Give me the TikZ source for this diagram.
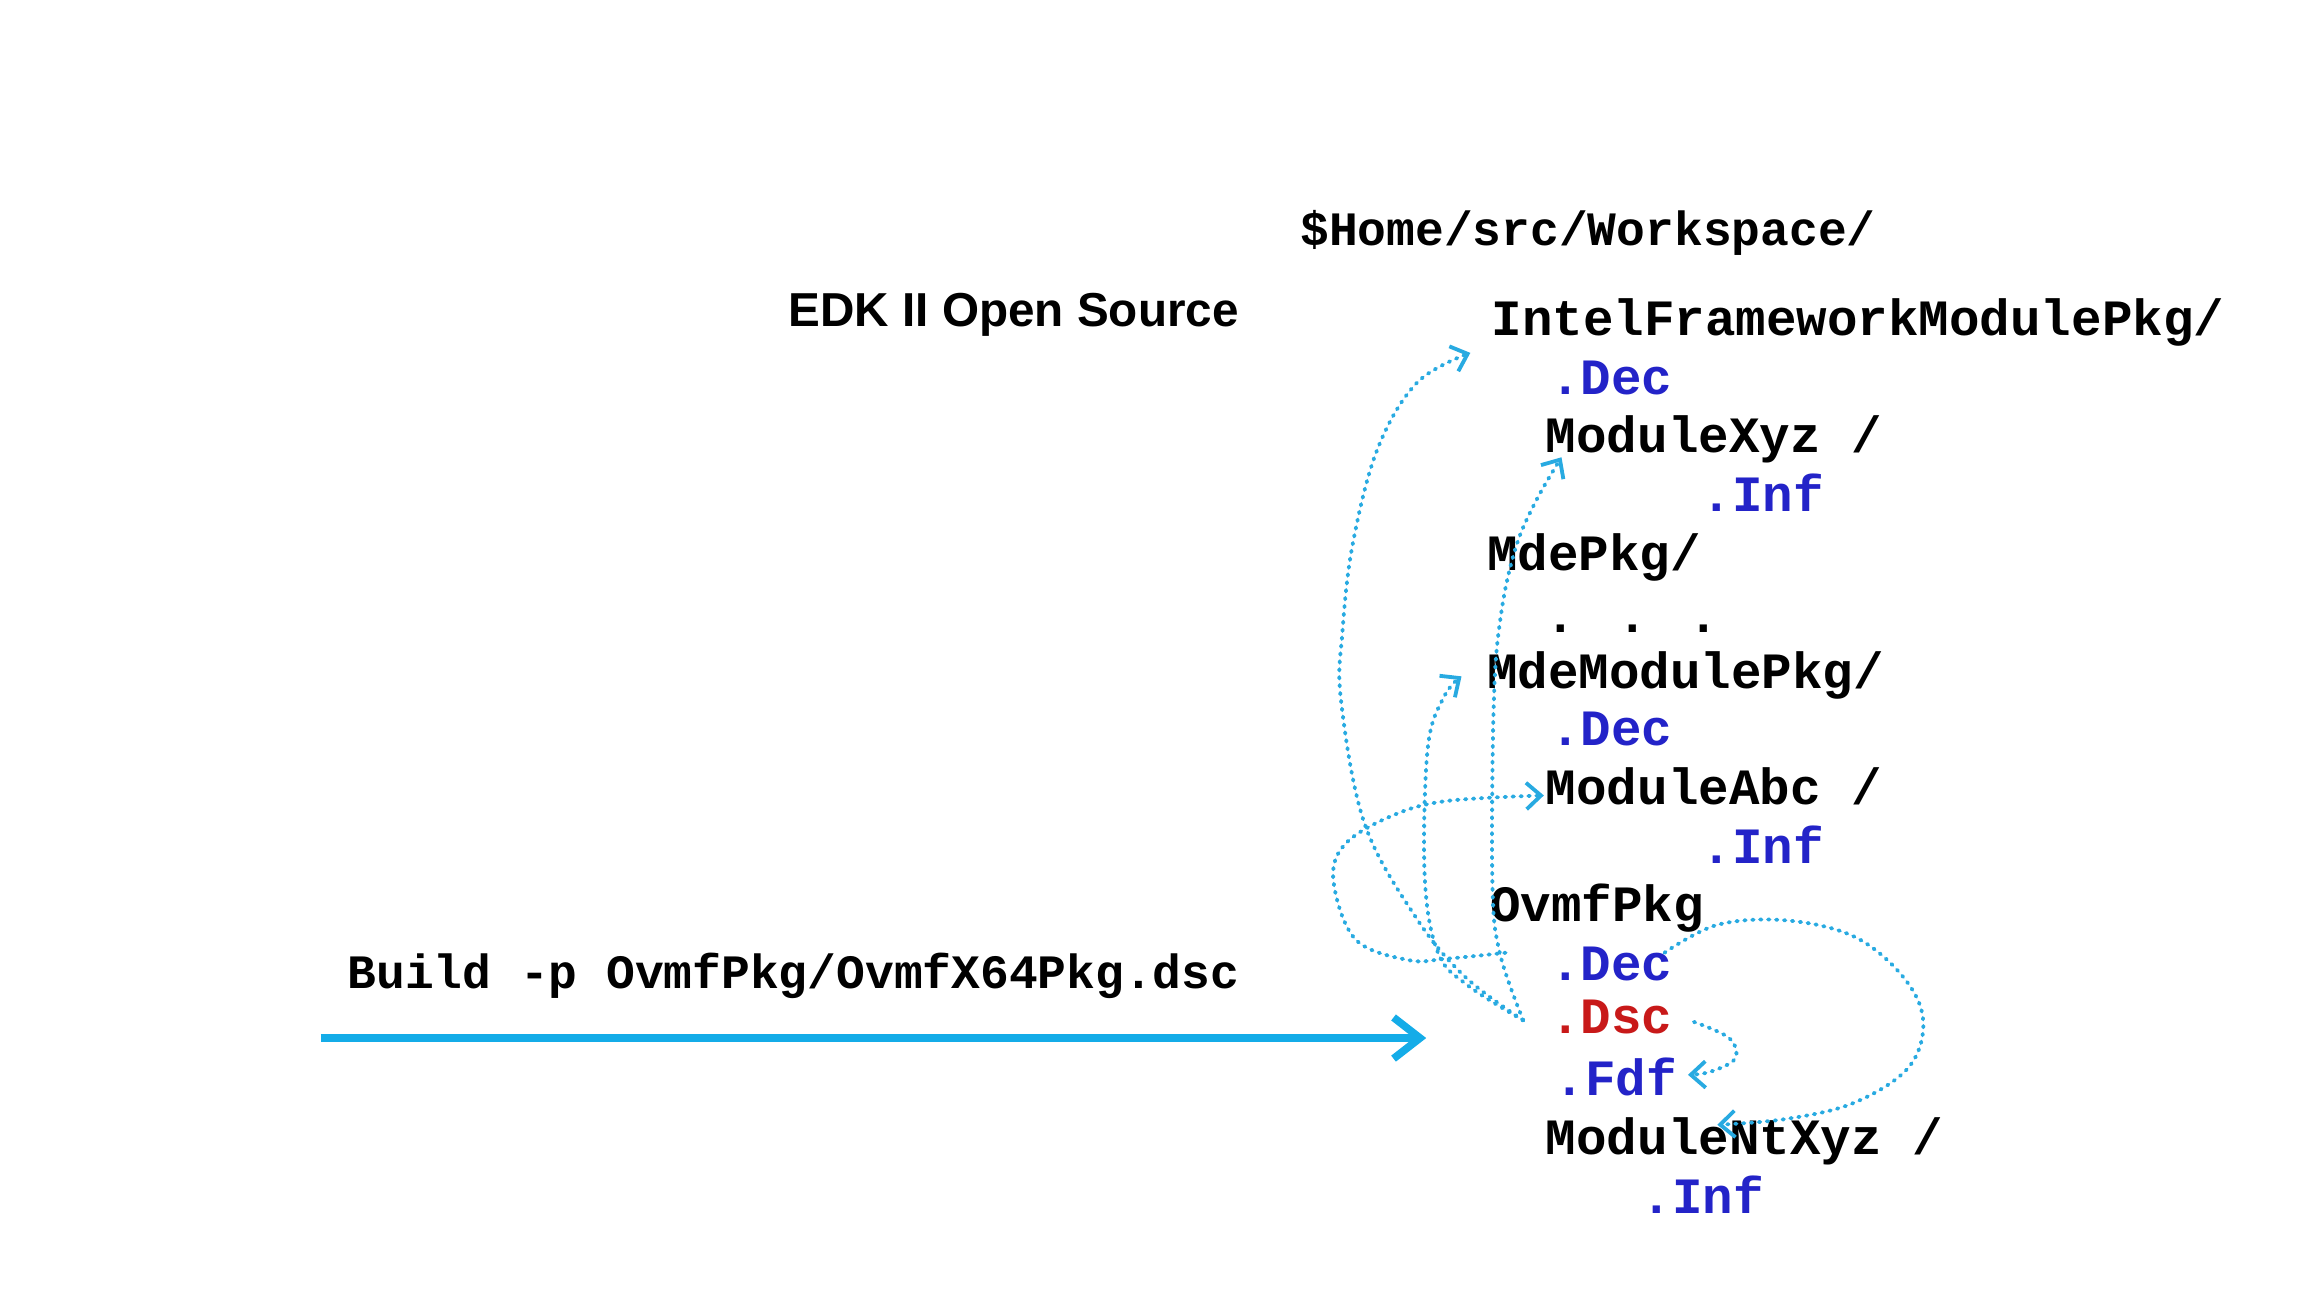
\documentclass[tikz,border=0pt]{standalone}
\usepackage{fontspec}
\newfontfamily\monof{Liberation Mono}
\newfontfamily\sansf{Liberation Sans}
\usetikzlibrary{arrows.meta}
\definecolor{dotcyan}{RGB}{40,170,225}
\definecolor{bigcyan}{RGB}{20,172,232}
\definecolor{extblue}{RGB}{35,35,200}
\definecolor{extred}{RGB}{200,25,25}
\begin{document}
\begin{tikzpicture}[x=0.5pt,y=-0.5pt,
  tree/.style={anchor=base west,inner sep=0pt,font=\monof\bfseries\fontsize{17.3}{20}\selectfont},
  cmd/.style={anchor=base west,inner sep=0pt,font=\monof\bfseries\fontsize{16.3}{20}\selectfont},
  title/.style={anchor=base west,inner sep=0pt,font=\sansf\bfseries\fontsize{16.2}{20}\selectfont},
  ext/.style={tree,text=extblue},
  dsc/.style={tree,text=extred},
  link/.style={draw=dotcyan,line width=1.3pt,dash pattern=on 0.5pt off 2.2pt,line cap=round,
    -{Straight Barb[length=5pt,width=9pt,line width=1.3pt]}},
  bigarrow/.style={draw=bigcyan,line width=2.6pt,-{Straight Barb[length=9pt,width=14pt]}}]
\useasboundingbox (0,0) rectangle (1567,881.4);
\node[cmd] (home) at (884,167) {\$Home/src/Workspace/};
\node[title] (edk) at (536,222) {EDK II Open Source};
\node[tree] (ifmp) at (1014,228) {IntelFrameworkModulePkg/};
\node[ext] (dec1) at (1054,268) {.Dec};
\node[tree] (modxyz) at (1051,308) {ModuleXyz /};
\node[ext] (inf1) at (1157,348) {.Inf};
\node[tree] (mde) at (1011,388) {MdePkg/};
\node[tree] (dots) at (1051,430) {. . .};
\node[tree] (mdemod) at (1011,468) {MdeModulePkg/};
\node[ext] (dec2) at (1054,507) {.Dec};
\node[tree] (modabc) at (1051,547) {ModuleAbc /};
\node[ext] (inf2) at (1157,587) {.Inf};
\node[tree] (ovmf) at (1013,627) {OvmfPkg};
\node[ext] (dec3) at (1054,667) {.Dec};
\node[dsc] (dscf) at (1054,703) {.Dsc};
\node[ext] (fdf) at (1057,745) {.Fdf};
\node[tree] (modnt) at (1051,785) {ModuleNtXyz /};
\node[ext] (inf3) at (1116,825) {.Inf};
\node[cmd] (build) at (236,672) {Build -p OvmfPkg/OvmfX64Pkg.dsc};
\coordinate (bstart) at (218,706);
\coordinate (bend) at (970,706);
\draw[bigarrow] (bstart) -- (bend);
% connectors
\coordinate (dscL) at (1036,694);
\coordinate (ifmpL) at (1000,240);
\coordinate (xyzL) at (1062,311);
\coordinate (mdemodL) at (994,460);
\coordinate (decL) at (1024,648);
\coordinate (abcL) at (1050,541);
\coordinate (decR) at (1132,648);
\coordinate (ntR) at (1168,765);
\coordinate (dscR) at (1152,695);
\coordinate (fdfR) at (1148,731);
\draw[link] plot[smooth,tension=0.6] coordinates {(dscL) (996,664) (963,624) (928,560) (912,476) (913,430) (920,370) (937,305) (964,260) (ifmpL)};
\draw[link] plot[smooth,tension=0.6] coordinates {(dscL) (1020,648) (1015,600) (1016,476) (1021,417) (1031,372) (1045,340) (xyzL)};
\draw[link] plot[smooth,tension=0.6] coordinates {(dscL) (998,670) (978,648) (969,597) (971,509) (982,474) (mdemodL)};
\draw[link] plot[smooth,tension=0.6] coordinates {(decL) (984,652) (958,653) (922,639) (907,600) (914,575) (944,556) (982,545) (abcL)};
\draw[link] plot[smooth,tension=0.6] coordinates {(decR) (1168,629) (1215,626) (1261,637) (1294,664) (1308,694) (1298,726) (1261,750) (1215,761) (ntR)};
\draw[link] plot[smooth,tension=0.6] coordinates {(dscR) (1176,706) (1180,720) (1163,729) (fdfR)};
\end{tikzpicture}
\end{document}
